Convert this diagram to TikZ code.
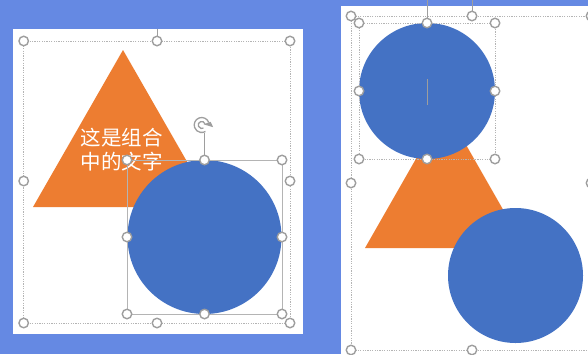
\documentclass[tikz,border=0pt]{standalone}
\usepackage{fontspec}
\newfontfamily\cjk{Noto Sans CJK SC}
\usetikzlibrary{arrows.meta}
\definecolor{bgblue}{HTML}{6589E3}
\definecolor{shapeblue}{HTML}{4472C4}
\definecolor{shapeorange}{HTML}{ED7D31}
\definecolor{hgray}{HTML}{9E9E9E}
\definecolor{dgray}{HTML}{B4B4B4}
\tikzset{
  handle/.style={circle, draw=hgray, fill=white, line width=1.4pt, minimum size=9.5pt, inner sep=0pt},
  groupbox/.style={draw=dgray, line width=0.7pt, dash pattern=on 1.2pt off 1.2pt},
  selbox/.style={draw=dgray, line width=0.9pt},
  guide/.style={draw=hgray, line width=0.9pt},
  grouptext/.style={text=white, font=\cjk\fontsize{20.5pt}{24pt}\selectfont, align=center, inner sep=0pt}
}
\begin{document}
\begin{tikzpicture}[x=1pt,y=-1pt]
\useasboundingbox (0,0) rectangle (588,354);
\clip (0,0) rectangle (588,354);
\fill[bgblue] (0,0) rectangle (588,354);
% ---------- left panel ----------
\fill[white] (13,29) rectangle (303,334);
\draw[guide, line width=0.6pt] (157,29) -- (157,37);
\draw[groupbox] (23.7,41) rectangle (290,323);
\fill[shapeorange] (123,50) -- (213,207) -- (33,207) -- cycle;
\node[grouptext] (txt) at (121.5,150) {这是组合\\中的文字};
\fill[shapeblue] (204.5,237) circle[radius=77];
\draw[selbox] (127,160) rectangle (282,314);
\coordinate (rotbase) at (204.5,133);
\node[handle] (lTL) at (23.7,41) {};
\node[handle] (lTM) at (157,41) {};
\node[handle] (lTR) at (290,41) {};
\node[handle] (lML) at (23.7,181) {};
\node[handle] (lMR) at (290,181) {};
\node[handle] (lBL) at (23.7,323) {};
\node[handle] (lBM) at (157,323) {};
\node[handle] (lBR) at (290,323) {};
\node[handle] (cTM) at (204.5,160) {};
\draw[guide] (rotbase) -- (cTM);
\node[handle] (cTL) at (127,160) {};
\node[handle] (cTR) at (282,160) {};
\node[handle] (cML) at (127,237) {};
\node[handle] (cMR) at (282,237) {};
\node[handle] (cBL) at (127,314) {};
\node[handle] (cBM) at (204.5,314) {};
\node[handle] (cBR) at (282,314) {};
% rotation icon
\draw[hgray, line width=1.3pt] (201.7,125) ++(-20:7.5) arc[start angle=-20, end angle=-300, radius=7.5];
\draw[hgray, line width=1.3pt] (201.7,125) ++(-20:3.5) arc[start angle=-20, end angle=-300, radius=3.5];
\fill[hgray] (201.7,125) ++(-20:2) -- ++(-20:7.5) -- ++(65:6) -- cycle;
% ---------- right panel ----------
\fill[white] (341,6) rectangle (588,354);
\draw[groupbox] (351,16) rectangle (591,350);
\draw[guide, line width=0.6pt] (472,0) -- (472,12);
\fill[shapeorange] (445,108) -- (525,248) -- (365,248) -- cycle;
\fill[shapeblue] (515.5,275.5) circle[radius=67.5];
\fill[shapeblue] (427,91) circle[radius=68];
\draw[groupbox] (359,23) rectangle (495,159);
\draw[guide, line width=0.8pt] (427,0) -- (427,19);
\draw[guide, line width=1pt] (427,79) -- (427,105);
\node[handle] (rTL) at (351,16) {};
\node[handle] (rTM) at (472,16) {};
\node[handle] (rTR) at (591,16) {};
\node[handle] (rML) at (351,183) {};
\node[handle] (rMR) at (591,183) {};
\node[handle] (rBL) at (351,350) {};
\node[handle] (rBM) at (472,350) {};
\node[handle] (sTL) at (359,23) {};
\node[handle] (sTM) at (427,23) {};
\node[handle] (sTR) at (495,23) {};
\node[handle] (sML) at (359,91) {};
\node[handle] (sMR) at (495,91) {};
\node[handle] (sBL) at (359,159) {};
\node[handle] (sBM) at (427,159) {};
\node[handle] (sBR) at (495,159) {};
\end{tikzpicture}
\end{document}
